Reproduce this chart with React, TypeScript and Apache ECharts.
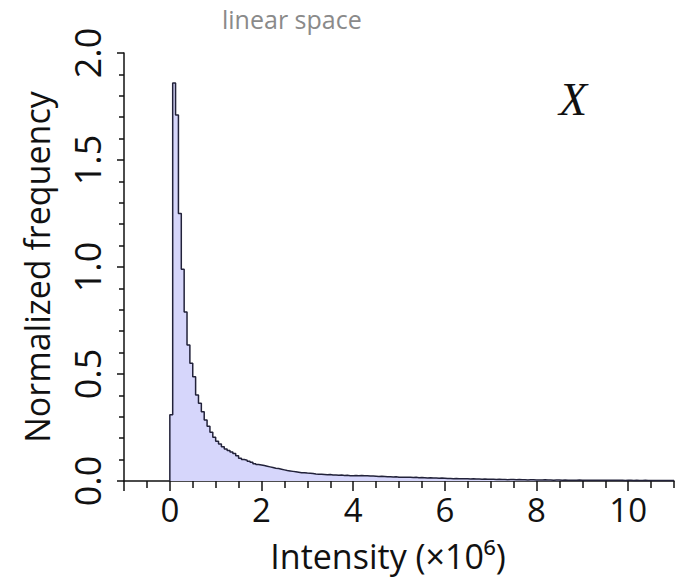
import React, { useEffect, useRef } from "react";
import * as echarts from "echarts";

// Histogram of intensity (x10^6), linear space
const BIN_WIDTH = 0.0625;
const FREQ: number[] = [
  0.31, 1.86, 1.71, 1.25, 0.99, 0.79, 0.635, 0.55, 0.487, 0.402, 0.363, 0.324, 0.285, 0.256, 0.228, 0.205,
  0.186, 0.173, 0.16, 0.15, 0.142, 0.135, 0.129, 0.118, 0.106, 0.1, 0.097, 0.092, 0.088, 0.081, 0.077, 0.075,
  0.072, 0.069, 0.066, 0.063, 0.06, 0.058, 0.055, 0.052, 0.049, 0.047, 0.045, 0.043, 0.041, 0.039, 0.039, 0.037,
  0.036, 0.035, 0.033, 0.032, 0.031, 0.03, 0.029, 0.03, 0.028, 0.028, 0.027, 0.028, 0.026, 0.027, 0.025, 0.025,
  0.026, 0.025, 0.026, 0.024, 0.024, 0.023, 0.023, 0.022, 0.021, 0.022, 0.021, 0.02, 0.02, 0.019, 0.02, 0.018,
  0.018, 0.018, 0.017, 0.017, 0.016, 0.017, 0.015, 0.016, 0.015, 0.014, 0.015, 0.014, 0.014, 0.013, 0.014, 0.013,
  0.012, 0.012, 0.011, 0.012, 0.011, 0.01, 0.011, 0.01, 0.009, 0.01, 0.009, 0.009, 0.008, 0.009, 0.008, 0.008,
  0.008, 0.007, 0.008, 0.007, 0.007, 0.006, 0.007, 0.007, 0.006, 0.007, 0.006, 0.006, 0.005, 0.006, 0.006, 0.005,
  0.005, 0.005, 0.006, 0.005, 0.005, 0.004, 0.005, 0.005, 0.004, 0.005, 0.004, 0.004, 0.004, 0.004, 0.005, 0.004,
  0.004, 0.003, 0.004, 0.004, 0.003, 0.004, 0.003, 0.003, 0.003, 0.003, 0.004, 0.003, 0.003, 0.003, 0.002, 0.003,
  0.003, 0.002, 0.003, 0.002, 0.002, 0.003, 0.002, 0.002, 0.002, 0.002, 0.002, 0.002, 0.002, 0.002, 0.002, 0.002,
];
const X_MAJOR_TICKS = [-1, 0, 2, 4, 6, 8, 10];
const X_LABELS = [0, 2, 4, 6, 8, 10];
const X_MINOR_TICKS = [-0.5, 0.5, 1, 1.5, 2.5, 3, 3.5, 4.5, 5, 5.5, 6.5, 7, 7.5, 8.5, 9, 9.5, 10.5, 11];

const TITLE = "linear space";
const X_NAME = "Intensity (×10⁶)";
const Y_NAME = "Normalized frequency";
const VAR_LABEL = "X";

const FONT = "'Open Sans', 'Noto Sans', sans-serif";

export default function App() {
  const ref = useRef<HTMLDivElement>(null);
  useEffect(() => {
    if (!ref.current) return;
    const chart = echarts.init(ref.current, undefined, { renderer: "svg" });
    const pts: [number, number][] = [[0, 0]];
    FREQ.forEach((v, i) => pts.push([i * BIN_WIDTH, v]));
    pts.push([FREQ.length * BIN_WIDTH, FREQ[FREQ.length - 1]]);

    const axisColor = "#111";
    const baseX = {
      type: "value" as const,
      min: -1,
      max: 11,
      position: "bottom" as const,
      splitLine: { show: false },
      axisLine: { show: true, onZero: false, lineStyle: { color: axisColor, width: 1.5 } },
    };

    chart.setOption({
      animation: false,
      backgroundColor: "#ffffff",
      title: {
        text: TITLE,
        left: 222,
        top: 5,
        padding: 0,
        textStyle: { fontFamily: FONT, fontSize: 25, lineHeight: 28, fontWeight: "normal", color: "#8a8a8a" },
      },
      grid: { left: 124, right: 7, top: 53, bottom: 102 },
      xAxis: [
        {
          ...baseX,
          name: X_NAME,
          nameLocation: "middle",
          nameGap: 58,
          nameTextStyle: { fontFamily: FONT, fontSize: 34, color: "#111", padding: [0, 22, 0, 0] },
          axisTick: { show: true, customValues: X_MAJOR_TICKS, length: 10, inside: false, lineStyle: { color: axisColor, width: 1.5 } },
          axisLabel: { show: true, customValues: X_LABELS, fontFamily: FONT, fontSize: 33, color: "#111", margin: 12 },
        },
        {
          ...baseX,
          axisLine: { show: false, onZero: false },
          axisTick: { show: true, customValues: X_MINOR_TICKS, length: 7, lineStyle: { color: axisColor, width: 1.5 } },
          axisLabel: { show: false },
        },
      ],
      yAxis: {
        type: "value",
        min: 0,
        max: 2,
        interval: 0.5,
        name: Y_NAME,
        nameLocation: "middle",
        nameGap: 70,
        nameTextStyle: { fontFamily: FONT, fontSize: 34, color: "#111" },
        splitLine: { show: false },
        axisLine: { show: true, onZero: false, lineStyle: { color: axisColor, width: 1.5 } },
        axisTick: { show: true, length: 7, lineStyle: { color: axisColor, width: 1.5 } },
        minorTick: { show: true, splitNumber: 5, length: 5, lineStyle: { color: axisColor, width: 1.5 } },
        axisLabel: {
          rotate: 90,
          fontFamily: FONT,
          fontSize: 36,
          color: "#111",
          margin: 19,
          formatter: (v: number) => v.toFixed(1),
        },
      },
      graphic: [
        {
          type: "text",
          left: 559,
          top: 76,
          style: { text: VAR_LABEL, font: "italic 46px 'Liberation Serif', 'DejaVu Serif', serif", fill: "#111" },
        },
      ],
      series: [
        {
          type: "line",
          xAxisIndex: 0,
          step: "end",
          data: pts,
          symbol: "none",
          lineStyle: { color: "#22223a", width: 1.5 },
          areaStyle: { color: "#d6d6fb", opacity: 1 },
        },
      ],
    });
    return () => chart.dispose();
  }, []);
  return <div ref={ref} style={{ position: "fixed", left: 0, top: 0, width: 681, height: 583, background: "#fff" }} />;
}
